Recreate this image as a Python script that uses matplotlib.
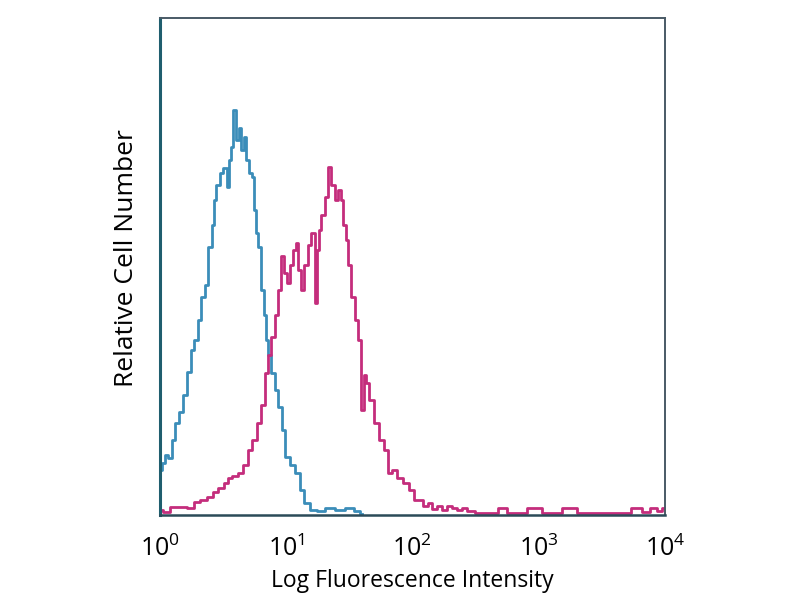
import matplotlib
matplotlib.use("Agg")
import matplotlib.pyplot as plt
import numpy as np

# histogram outlines: x in log10 intensity, y relative count (0-100)
blue_log = [0.000, 0.024, 0.055, 0.079, 0.103, 0.135, 0.166, 0.198, 0.230, 0.261,
            0.285, 0.309, 0.341, 0.364, 0.396, 0.420, 0.436, 0.459, 0.491, 0.515,
            0.539, 0.554, 0.570, 0.594, 0.610, 0.634, 0.657, 0.673, 0.697, 0.713,
            0.737, 0.752, 0.768, 0.792, 0.816, 0.832, 0.848, 0.871, 0.895, 0.927,
            0.950, 0.982, 1.006, 1.046, 1.085, 1.125, 1.164, 1.212, 1.267, 1.347,
            1.426, 1.505, 1.568, 1.600]
blue_cnt = [9.1, 10.5, 12.1, 11.5, 15.1, 18.5, 20.7, 24.1, 28.8, 33.2,
            35.2, 39.2, 43.9, 46.3, 53.9, 58.4, 63.4, 66.4, 68.8, 69.8,
            66.0, 71.4, 74.0, 81.5, 75.5, 77.9, 73.4, 76.1, 71.4, 68.8,
            68.0, 61.4, 56.7, 53.9, 45.3, 40.2, 35.2, 32.2, 28.6, 25.2,
            21.7, 17.1, 11.7, 10.1, 8.5, 5.0, 2.4, 1.0, 0.8, 1.4,
            1.0, 1.4, 0.8, 0.2]

magenta_log = [0.000, 0.040, 0.119, 0.182, 0.238, 0.293, 0.341, 0.396, 0.436, 0.475,
               0.531, 0.554, 0.594, 0.634, 0.673, 0.713, 0.752, 0.792, 0.816, 0.848,
               0.871, 0.895, 0.927, 0.950, 0.974, 0.998, 1.014, 1.046, 1.069, 1.085,
               1.109, 1.133, 1.156, 1.188, 1.212, 1.244, 1.251, 1.267, 1.291, 1.323,
               1.347, 1.370, 1.402, 1.426, 1.442, 1.465, 1.481, 1.505, 1.529, 1.560,
               1.584, 1.608, 1.624, 1.640, 1.679, 1.719, 1.758, 1.798, 1.822, 1.861,
               1.901, 1.956, 1.996, 2.028, 2.059, 2.107, 2.139, 2.178, 2.218, 2.257,
               2.297, 2.337, 2.376, 2.416, 2.455, 2.535, 2.614, 2.733, 2.772, 3.010,
               3.050, 3.287, 3.327, 3.644, 3.802, 3.842, 3.921, 3.960, 4.000]
magenta_cnt = [1.0, 0.6, 1.6, 1.6, 1.4, 2.6, 3.0, 3.6, 4.6, 5.4,
               6.4, 7.4, 7.8, 8.5, 10.1, 13.1, 15.1, 18.5, 22.1, 28.6,
               32.2, 35.8, 40.2, 45.3, 52.1, 48.7, 46.7, 50.3, 53.3, 54.7,
               49.3, 45.3, 50.3, 54.3, 56.7, 42.7, 53.3, 57.3, 60.4, 64.0,
               70.0, 66.4, 63.4, 65.4, 63.4, 58.4, 55.3, 50.3, 43.9, 39.2,
               35.2, 21.1, 28.2, 26.6, 23.1, 18.5, 15.1, 13.1, 8.5, 9.1,
               7.4, 6.4, 5.0, 3.0, 3.0, 1.8, 2.4, 1.2, 1.8, 1.0,
               1.8, 1.4, 1.0, 1.4, 0.8, 0.4, 0.4, 1.4, 0.4, 1.4,
               0.4, 1.4, 0.4, 0.4, 1.4, 0.6, 1.4, 0.8, 1.4]

tick_pos = [1, 10, 100, 1000, 10000]
tick_lab = ["$10^0$", "$10^1$", "$10^2$", "$10^3$", "$10^4$"]

plt.rcParams['font.family'] = ['Open Sans', 'DejaVu Sans']
plt.rcParams['mathtext.fontset'] = 'custom'
plt.rcParams['mathtext.rm'] = 'Open Sans'

fig = plt.figure(figsize=(8, 6), dpi=100)
ax = fig.add_axes([0.2, 0.1417, 0.631, 0.8283])

ax.plot(10 ** np.array(blue_log), blue_cnt, drawstyle='steps-mid',
        color='#3b8db9', lw=2.0)
ax.plot(10 ** np.array(magenta_log), magenta_cnt, drawstyle='steps-mid',
        color='#c42d7c', lw=2.0)

ax.set_xscale('log')
ax.set_xlim(1, 10000)
ax.set_ylim(0, 100)
ax.set_xticks(tick_pos)
ax.set_xticklabels(tick_lab, fontsize=18)
ax.xaxis.set_minor_locator(matplotlib.ticker.NullLocator())
ax.tick_params(axis='x', length=0, pad=15)
ax.set_yticks([])

ax.set_xlabel("Log Fluorescence Intensity", fontsize=16.5, labelpad=5)
ax.set_ylabel("Relative Cell Number", fontsize=19)
ax.yaxis.set_label_coords(-0.042, 0.517)

ax.spines['left'].set_color('#1f5e6e')
ax.spines['left'].set_linewidth(2.2)
ax.spines['bottom'].set_color('#2b4a58')
ax.spines['bottom'].set_linewidth(1.8)
for s in ['top', 'right']:
    ax.spines[s].set_color('#4a5a66')
    ax.spines[s].set_linewidth(1.4)

fig.savefig("out.png", dpi=100)
